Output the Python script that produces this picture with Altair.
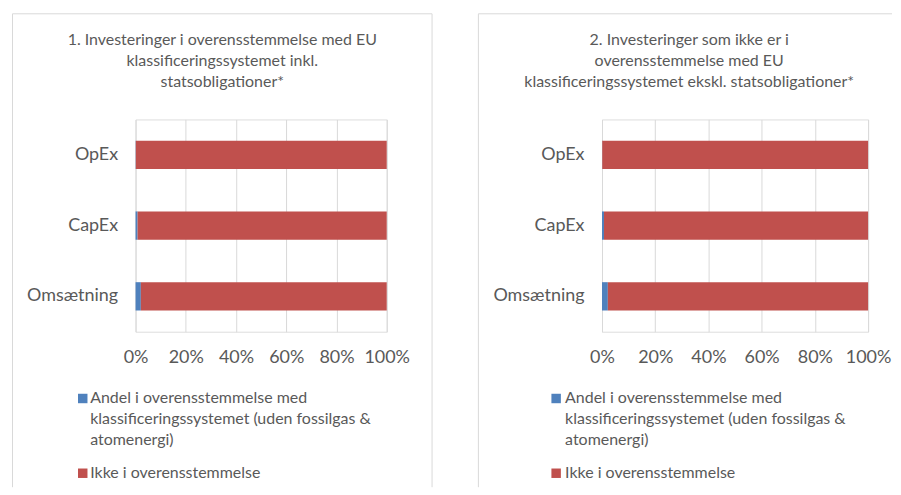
import altair as alt
import pandas as pd

categories = ["OpEx", "CapEx", "Omsætning"]
series = [
    "Andel i overensstemmelse med klassificeringssystemet (uden fossilgas & atomenergi)",
    "Ikke i overensstemmelse",
]
colors = ["#4F81BD", "#C0504D"]

# panel 1 (inkl. statsobligationer)
aligned_1 = [0.1, 0.8, 2.1]
other_1 = [99.9, 99.2, 97.9]
# panel 2 (ekskl. statsobligationer)
aligned_2 = [0.1, 0.75, 2.2]
other_2 = [99.9, 99.25, 97.8]

tick_values = [0, 0.2, 0.4, 0.6, 0.8, 1.0]

title_1 = ["1. Investeringer i overensstemmelse med EU",
           "klassificeringssystemet inkl.",
           "statsobligationer*"]
title_2 = ["2. Investeringer som ikke er i",
           "overensstemmelse med EU",
           "klassificeringssystemet ekskl. statsobligationer*"]
legend_1_lines = ["Andel i overensstemmelse med",
                  "klassificeringssystemet (uden fossilgas &",
                  "atomenergi)"]
legend_2_lines = ["Ikke i overensstemmelse"]

FONT = "Lato"
TXT = "#595959"
GRID = "#d9d9d9"
H = 213


def make_df(aligned, other):
    rows = []
    for c, a, o in zip(categories, aligned, other):
        rows.append({"category": c, "series": series[0], "value": a, "order": 0})
        rows.append({"category": c, "series": series[1], "value": o, "order": 1})
    return pd.DataFrame(rows)


one = pd.DataFrame({"k": [0]})


def vline(x, y0, y1):
    return alt.Chart(one).mark_rule(color=GRID, strokeWidth=1).encode(
        x=alt.value(x), y=alt.value(y0), y2=alt.value(y1))


def hline(x0, x1, y):
    return alt.Chart(one).mark_rule(color=GRID, strokeWidth=1).encode(
        x=alt.value(x0), x2=alt.value(x1), y=alt.value(y))


def panel(df, title_lines, width, box_x0, box_x1, right_edge, leg_sq_x, leg_txt_x):
    top, bottom = -106, 369
    edges = [hline(box_x0, box_x1, top), vline(box_x0, top, bottom)]
    if right_edge:
        edges.append(vline(box_x1, top, bottom))
    bars = alt.Chart(df).mark_bar().encode(
        x=alt.X(
            "value:Q", stack="normalize",
            scale=alt.Scale(domain=[0, 1], nice=False),
            axis=alt.Axis(
                values=tick_values, format="%", grid=True, gridColor=GRID,
                gridWidth=1, domain=False, ticks=False, labelFontSize=18,
                labelColor=TXT, labelFont=FONT, labelPadding=17,
                labelFlush=False, labelOverlap=False, title=None,
            ),
        ),
        y=alt.Y(
            "category:N", sort=categories,
            scale=alt.Scale(paddingInner=0.6, paddingOuter=0.3),
            axis=alt.Axis(
                title=None, domain=False, ticks=False, labelFontSize=18,
                labelPadding=18, labelColor=TXT, labelFont=FONT,
            ),
        ),
        color=alt.Color(
            "series:N", scale=alt.Scale(domain=series, range=colors), legend=None
        ),
        order=alt.Order("order:Q"),
    )
    cx = (box_x0 + (box_x1 if right_edge else box_x0 + 423)) / 2
    title = alt.Chart(one).mark_text(
        align="center", baseline="middle", fontSize=16, lineHeight=21,
        color=TXT, font=FONT,
    ).encode(x=alt.value(cx), y=alt.value(-80), text=alt.value(title_lines))

    sq1 = alt.Chart(one).mark_square(size=90, opacity=1, color=colors[0]).encode(
        x=alt.value(leg_sq_x), y=alt.value(280))
    sq2 = alt.Chart(one).mark_square(size=90, opacity=1, color=colors[1]).encode(
        x=alt.value(leg_sq_x), y=alt.value(355))
    t1 = alt.Chart(one).mark_text(
        align="left", baseline="middle", fontSize=16, lineHeight=21,
        color=TXT, font=FONT,
    ).encode(x=alt.value(leg_txt_x), y=alt.value(280), text=alt.value(legend_1_lines))
    t2 = alt.Chart(one).mark_text(
        align="left", baseline="middle", fontSize=16, lineHeight=21,
        color=TXT, font=FONT,
    ).encode(x=alt.value(leg_txt_x), y=alt.value(355), text=alt.value(legend_2_lines))

    return alt.layer(*edges, bars, title, sq1, sq2, t1, t2).properties(
        width=width, height=H
    )


p1 = panel(make_df(aligned_1, other_1), title_1, 252, -123.5, 297.5, True, -53, -45.5)
p2 = panel(make_df(aligned_2, other_2), title_2, 267, -124, 291, False, -46, -37)

chart = alt.hconcat(p1, p2, spacing=44).properties(
    padding={"left": 3, "top": 4, "right": 0, "bottom": 0}
).configure_view(stroke=None).configure(background="white")

chart.save("out.html", embed_options={"renderer": "svg", "actions": False})
